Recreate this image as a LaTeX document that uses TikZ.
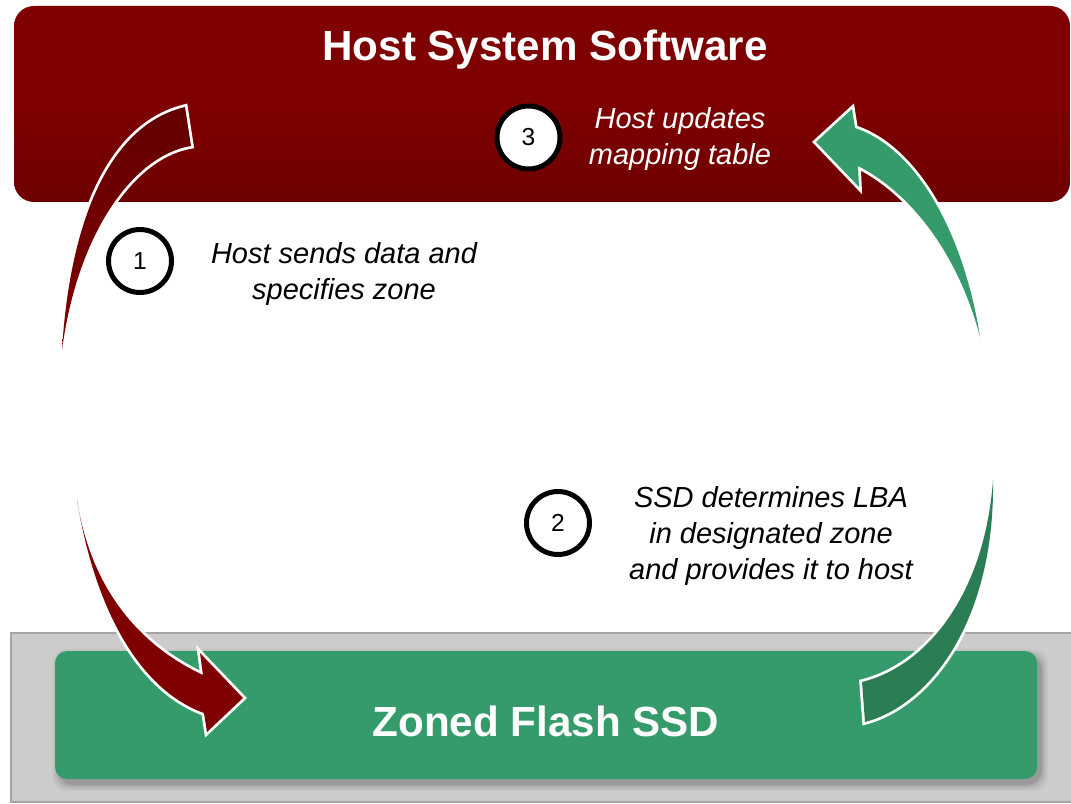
\documentclass[tikz,border=0pt]{standalone}
\usepackage{fontspec}
\setmainfont{Liberation Sans}
\definecolor{hostred}{HTML}{7F0000}
\definecolor{hostreddark}{HTML}{6E0000}
\definecolor{arrowredtop}{HTML}{640000}
\definecolor{ssdgreen}{HTML}{359B6A}
\definecolor{ssdgreendark}{HTML}{2B7E53}
\definecolor{graybg}{HTML}{CCCCCC}
\definecolor{grayedge}{HTML}{A5A5A5}
\def\pathRedTop{(62,350) .. controls (70,220) and (110,125) .. (185,107) -- (191,146)
  .. controls (135,155) and (78,230) .. (62,350) -- cycle}
\def\pathRedBottom{(77,500) .. controls (95,610) and (140,690) .. (204,713) -- (207,732) -- (243,698)
  -- (200,653) -- (203,675) .. controls (145,648) and (92,595) .. (77,500) -- cycle}
\def\pathGreenBottom{(993,480) .. controls (995,620) and (930,705) .. (865,722) -- (862,682)
  .. controls (930,665) and (985,590) .. (993,480) -- cycle}
\def\pathGreenTop{(980,337) .. controls (965,240) and (920,150) .. (855,128) -- (852,109) -- (816,142)
  -- (859,187) -- (858,166) .. controls (915,195) and (960,260) .. (980,337) -- cycle}
\begin{document}
\begin{tikzpicture}[x=0.02cm,y=-0.02cm,
  arrowshape/.style={draw=white, line width=0.11cm, line join=miter, miter limit=6},
  numcircle/.style={circle, draw=black, line width=0.1cm, fill=white, minimum size=1.26cm, inner sep=0pt, font=\fontsize{14}{16}\selectfont},
  steptext/.style={align=center, font=\fontsize{16.5}{20.6}\selectfont\itshape},
  boxtitle/.style={text=white, font=\fontsize{24}{29}\selectfont\bfseries}]
\useasboundingbox (0,0) rectangle (1071,804);
\fill[white] (0,0) rectangle (1071,804);
% gray base
\filldraw[fill=graybg, draw=grayedge, line width=0.04cm] (11,633) rectangle (1075,802);
% shadow of green box
\foreach \d/\o in {7/0.04,5/0.05,3/0.07,1/0.10}{
  \fill[black, opacity=\o, rounded corners=0.3cm] (55+4-\d,651+5-\d) rectangle (1037+4+\d,779+5+\d);
}
% green box
\fill[ssdgreen, rounded corners=0.24cm] (55,651) rectangle (1037,779);
\node[boxtitle] (ssd) at (546,721) {Zoned Flash SSD};
% red box
\shade[rounded corners=0.4cm, top color=hostred, bottom color=hostreddark, middle color=hostred] (14,6) rectangle (1070,202);
\node[boxtitle] (host) at (545,50) {Host System Software};
% arrow 1 top part (red, from host)
\shadedraw[arrowshape, top color=arrowredtop, bottom color=hostred] \pathRedTop;
\shade[top color=arrowredtop, bottom color=hostred] \pathRedTop;
% arrow 1 bottom part (red, into SSD)
\filldraw[arrowshape, fill=hostred] \pathRedBottom;
\fill[hostred] \pathRedBottom;
% arrow 2 bottom part (green, from SSD)
\filldraw[arrowshape, fill=ssdgreendark] \pathGreenBottom;
\fill[ssdgreendark] \pathGreenBottom;
% arrow 2 top part (green, into host)
\filldraw[arrowshape, fill=ssdgreen] \pathGreenTop;
\fill[ssdgreen] \pathGreenTop;
% step circles
\node[numcircle] (c1) at (140,261) {1};
\node[numcircle] (c3) at (528.5,137.5) {3};
\node[numcircle] (c2) at (558,523) {2};
% step texts
\node[steptext] (t1) at (344,274) {Host sends data and\\specifies zone};
\node[steptext, text=white] (t3) at (680,139) {Host updates\\mapping table};
\node[steptext] (t2) at (771,536) {SSD determines LBA\\in designated zone\\and provides it to host};
\end{tikzpicture}
\end{document}
